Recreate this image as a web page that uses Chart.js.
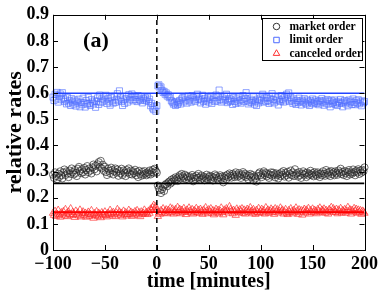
<!DOCTYPE html>
<html><head><meta charset="utf-8">
<script src="https://cdn.jsdelivr.net/npm/chart.js@4/dist/chart.umd.min.js"></script>
<style>html,body{margin:0;padding:0;background:#fff;}canvas{display:block;}</style>
</head><body>
<canvas id="c" width="382" height="293"></canvas>
<script>
const timeMinutes = [
-100,-99,-98,-97,-96,-95,-94,-93,-92,-91,-90,-89,-88,-87,-86,-85,-84,-83,-82,-81,
-80,-79,-78,-77,-76,-75,-74,-73,-72,-71,-70,-69,-68,-67,-66,-65,-64,-63,-62,-61,
-60,-59,-58,-57,-56,-55,-54,-53,-52,-51,-50,-49,-48,-47,-46,-45,-44,-43,-42,-41,
-40,-39,-38,-37,-36,-35,-34,-33,-32,-31,-30,-29,-28,-27,-26,-25,-24,-23,-22,-21,
-20,-19,-18,-17,-16,-15,-14,-13,-12,-11,-10,-9,-8,-7,-6,-5,-4,-3,-2,-1,
0,
1,2,3,4,5,6,7,8,9,10,11,12,13,14,15,16,17,18,19,20,
21,22,23,24,25,26,27,28,29,30,31,32,33,34,35,36,37,38,39,40,
41,42,43,44,45,46,47,48,49,50,51,52,53,54,55,56,57,58,59,60,
61,62,63,64,65,66,67,68,69,70,71,72,73,74,75,76,77,78,79,80,
81,82,83,84,85,86,87,88,89,90,91,92,93,94,95,96,97,98,99,100,
101,102,103,104,105,106,107,108,109,110,111,112,113,114,115,116,117,118,119,120,
121,122,123,124,125,126,127,128,129,130,131,132,133,134,135,136,137,138,139,140,
141,142,143,144,145,146,147,148,149,150,151,152,153,154,155,156,157,158,159,160,
161,162,163,164,165,166,167,168,169,170,171,172,173,174,175,176,177,178,179,180,
181,182,183,184,185,186,187,188,189,190,191,192,193,194,195,196,197,198,199,200];

const limitOrder = [
0.585,0.572,0.596,0.578,0.603,0.566,0.589,0.597,0.575,0.602,
0.581,0.568,0.574,0.559,0.583,0.562,0.571,0.553,0.579,0.566,
0.558,0.574,0.551,0.569,0.562,0.577,0.548,0.565,0.556,0.581,
0.563,0.547,0.572,0.558,0.584,0.561,0.553,0.576,0.566,0.559,
0.571,0.546,0.568,0.582,0.557,0.593,0.564,0.578,0.569,0.586,
0.574,0.592,0.561,0.579,0.567,0.554,0.583,0.571,0.562,0.588,
0.565,0.577,0.598,0.571,0.609,0.582,0.568,0.553,0.574,0.561,
0.579,0.587,0.566,0.594,0.575,0.583,0.597,0.571,0.589,0.576,
0.584,0.568,0.591,0.577,0.572,0.586,0.563,0.579,0.574,0.582,
0.571,0.585,0.568,0.577,0.552,0.561,0.543,0.537,0.548,0.531,
0.552,
0.628,0.632,0.619,0.624,0.611,0.603,0.607,0.596,0.601,0.589,
0.594,0.583,0.587,0.571,0.566,0.558,0.562,0.553,0.568,0.557,
0.564,0.572,0.559,0.578,0.583,0.567,0.586,0.574,0.562,0.589,
0.571,0.578,0.566,0.591,0.583,0.574,0.569,0.587,0.596,0.576,
0.581,0.563,0.574,0.592,0.568,0.579,0.558,0.571,0.583,0.566,
0.577,0.589,0.561,0.574,0.582,0.568,0.593,0.571,0.585,0.612,
0.576,0.566,0.582,0.571,0.588,0.577,0.596,0.564,0.571,0.579,
0.568,0.574,0.557,0.583,0.569,0.561,0.578,0.566,0.585,0.572,
0.562,0.576,0.591,0.568,0.581,0.602,0.573,0.559,0.567,0.577,
0.564,0.572,0.586,0.558,0.569,0.553,0.577,0.563,0.571,0.582,
0.574,0.596,0.566,0.581,0.569,0.584,0.572,0.561,0.579,0.567,
0.598,0.576,0.563,0.587,0.571,0.582,0.555,0.574,0.568,0.591,
0.577,0.566,0.583,0.571,0.596,0.578,0.601,0.568,0.584,0.573,
0.561,0.578,0.566,0.557,0.572,0.564,0.581,0.569,0.555,0.573,
0.566,0.579,0.562,0.558,0.574,0.567,0.553,0.571,0.563,0.578,
0.559,0.566,0.574,0.561,0.568,0.556,0.572,0.563,0.579,0.567,
0.554,0.571,0.562,0.576,0.558,0.569,0.548,0.573,0.561,0.566,
0.574,0.557,0.565,0.553,0.569,0.561,0.576,0.563,0.548,0.566,
0.572,0.559,0.567,0.552,0.574,0.563,0.569,0.557,0.578,0.564,
0.556,0.571,0.562,0.575,0.559,0.566,0.552,0.571,0.563,0.568];

const marketOrder = [
0.288,0.276,0.297,0.283,0.271,0.292,0.279,0.301,0.286,0.274,
0.296,0.308,0.287,0.301,0.293,0.279,0.304,0.291,0.312,0.298,
0.289,0.306,0.295,0.283,0.311,0.318,0.302,0.294,0.309,0.297,
0.314,0.289,0.306,0.321,0.298,0.312,0.304,0.293,0.316,0.327,
0.309,0.322,0.301,0.328,0.336,0.317,0.341,0.312,0.326,0.303,
0.318,0.298,0.287,0.311,0.303,0.294,0.315,0.306,0.289,0.301,
0.312,0.296,0.308,0.284,0.302,0.293,0.311,0.287,0.304,0.296,
0.283,0.306,0.297,0.312,0.291,0.304,0.289,0.301,0.294,0.307,
0.286,0.298,0.279,0.303,0.291,0.284,0.299,0.288,0.302,0.293,
0.286,0.297,0.291,0.304,0.289,0.298,0.307,0.295,0.311,0.302,
0.296,
0.247,0.236,0.229,0.218,0.232,0.241,0.226,0.249,0.253,0.244,
0.258,0.262,0.254,0.269,0.261,0.273,0.266,0.278,0.271,0.264,
0.279,0.286,0.274,0.291,0.282,0.276,0.288,0.271,0.283,0.278,
0.268,0.281,0.274,0.287,0.263,0.279,0.272,0.284,0.276,0.291,
0.278,0.269,0.285,0.274,0.281,0.267,0.276,0.288,0.271,0.279,
0.284,0.272,0.281,0.266,0.277,0.289,0.283,0.274,0.268,0.279,
0.286,0.273,0.281,0.259,0.276,0.284,0.271,0.288,0.279,0.293,
0.284,0.277,0.291,0.286,0.279,0.297,0.288,0.281,0.294,0.285,
0.276,0.289,0.298,0.283,0.292,0.279,0.286,0.271,0.284,0.291,
0.278,0.287,0.266,0.281,0.274,0.262,0.283,0.292,0.297,0.286,
0.279,0.293,0.301,0.287,0.295,0.282,0.291,0.276,0.288,0.297,
0.284,0.296,0.289,0.278,0.293,0.286,0.274,0.291,0.283,0.297,
0.288,0.302,0.281,0.294,0.286,0.299,0.277,0.291,0.304,0.286,
0.297,0.283,0.309,0.289,0.294,0.281,0.298,0.286,0.276,0.292,
0.301,0.288,0.294,0.279,0.296,0.285,0.291,0.303,0.287,0.294,
0.282,0.298,0.289,0.284,0.297,0.291,0.279,0.293,0.286,0.301,
0.292,0.284,0.306,0.295,0.288,0.299,0.283,0.302,0.291,0.297,
0.286,0.301,0.294,0.288,0.304,0.296,0.311,0.291,0.299,0.287,
0.302,0.294,0.283,0.299,0.306,0.289,0.297,0.292,0.308,0.298,
0.286,0.303,0.297,0.309,0.291,0.304,0.296,0.307,0.301,0.316];

const canceledOrder = [
0.141,0.133,0.148,0.129,0.137,0.152,0.134,0.126,0.143,0.138,
0.147,0.131,0.155,0.139,0.128,0.146,0.136,0.158,0.132,0.144,
0.137,0.125,0.149,0.135,0.142,0.131,0.153,0.127,0.139,0.146,
0.133,0.141,0.126,0.138,0.145,0.129,0.136,0.151,0.134,0.122,
0.139,0.132,0.147,0.128,0.141,0.135,0.124,0.143,0.137,0.131,
0.146,0.133,0.127,0.141,0.136,0.152,0.139,0.131,0.144,0.137,
0.128,0.142,0.155,0.138,0.146,0.133,0.141,0.127,0.149,0.136,
0.143,0.131,0.138,0.152,0.136,0.145,0.129,0.141,0.134,0.147,
0.139,0.151,0.134,0.143,0.128,0.146,0.137,0.141,0.153,0.138,
0.144,0.136,0.149,0.141,0.157,0.152,0.163,0.171,0.158,0.166,
0.154,
0.129,0.142,0.137,0.151,0.145,0.158,0.141,0.149,0.154,0.139,
0.152,0.146,0.161,0.143,0.157,0.138,0.149,0.155,0.142,0.163,
0.148,0.156,0.139,0.152,0.144,0.159,0.147,0.136,0.153,0.145,
0.161,0.149,0.142,0.155,0.138,0.151,0.146,0.159,0.143,0.152,
0.141,0.156,0.148,0.137,0.153,0.145,0.162,0.149,0.139,0.154,
0.146,0.158,0.141,0.151,0.135,0.147,0.156,0.143,0.152,0.139,
0.149,0.161,0.144,0.135,0.153,0.147,0.158,0.151,0.142,0.166,
0.155,0.148,0.139,0.152,0.146,0.133,0.157,0.149,0.143,0.154,
0.147,0.158,0.141,0.153,0.138,0.149,0.156,0.144,0.151,0.162,
0.148,0.139,0.155,0.146,0.137,0.152,0.144,0.159,0.141,0.149,
0.156,0.143,0.151,0.138,0.162,0.147,0.153,0.141,0.149,0.157,
0.144,0.152,0.137,0.158,0.146,0.154,0.142,0.149,0.161,0.147,
0.153,0.138,0.146,0.155,0.141,0.136,0.151,0.144,0.158,0.147,
0.139,0.152,0.145,0.161,0.148,0.137,0.154,0.143,0.151,0.134,
0.149,0.156,0.142,0.153,0.146,0.159,0.138,0.151,0.145,0.157,
0.143,0.152,0.147,0.139,0.155,0.148,0.161,0.144,0.153,0.149,
0.157,0.141,0.152,0.146,0.138,0.155,0.149,0.163,0.145,0.158,
0.151,0.144,0.156,0.139,0.153,0.147,0.159,0.142,0.151,0.146,
0.155,0.141,0.149,0.163,0.147,0.154,0.138,0.152,0.145,0.159,
0.148,0.156,0.141,0.153,0.144,0.151,0.137,0.149,0.146,0.141];

const seriesLabels = ['market order','limit order','canceled order'];
const referenceLevels = [0.255, 0.60, 0.145];
const eventTime = [0];
const xRange = [-100, 200];
const yRange = [0, 0.9];
const xTicks = [-100,-50,0,50,100,150,200];
const yTicks = [0,0.1,0.2,0.3,0.4,0.5,0.6,0.7,0.8,0.9];
const xTitle = 'time [minutes]';
const yTitle = 'relative rates';
const panelLabel = '(a)';

const SERIF = '"Liberation Serif","Times New Roman",serif';
const styles = [
  {point:'circle', r:3.6, color:'rgba(40,40,40,0.85)', legend:'#333', line:'#000000'},
  {point:'rect', r:4.3, color:'rgba(80,110,255,0.8)', legend:'#4d6bff', line:'#2244ff'},
  {point:'triangle', r:4.2, color:'rgba(255,40,40,0.85)', legend:'#ff3030', line:'#ff0000'}
];
const seriesValues = [marketOrder, limitOrder, canceledOrder];

const datasets = [];
seriesValues.forEach((vals, i) => {
  datasets.push({
    label: seriesLabels[i],
    data: timeMinutes.map((t, k) => ({x: t, y: vals[k]})),
    pointStyle: styles[i].point,
    pointRadius: styles[i].r,
    pointBorderWidth: 0.8,
    pointBackgroundColor: 'rgba(0,0,0,0)',
    pointBorderColor: styles[i].color,
    showLine: false,
    clip: false,
    order: 2
  });
});
referenceLevels.forEach((lv, i) => {
  datasets.push({
    label: seriesLabels[i] + ' level',
    data: [{x: xRange[0], y: lv}, {x: xRange[1], y: lv}],
    showLine: true, pointRadius: 0, borderColor: styles[i].line, borderWidth: 1.6,
    order: 1
  });
});
datasets.push({
  label: 'event',
  data: [{x: eventTime[0], y: yRange[0]}, {x: eventTime[0], y: yRange[1]}],
  showLine: true, pointRadius: 0, borderColor: '#000', borderWidth: 1.5, borderDash: [5, 4],
  order: 0
});

const extras = {
  id: 'extras',
  beforeDraw(chart) {
    const c = chart.ctx;
    c.save(); c.fillStyle = '#fff'; c.fillRect(0, 0, chart.width, chart.height); c.restore();
  },
  afterDraw(chart) {
    const {ctx, chartArea: a, scales: {x, y}} = chart;
    ctx.save();
    ctx.strokeStyle = '#000';
    ctx.lineWidth = 1;
    ctx.setLineDash([]);
    ctx.strokeRect(Math.round(a.left) + 0.5, Math.round(a.top) + 0.5, Math.round(a.right - a.left), Math.round(a.bottom - a.top));
    ctx.beginPath();
    xTicks.forEach(v => {
      const px = Math.round(x.getPixelForValue(v)) + 0.5;
      ctx.moveTo(px, a.bottom); ctx.lineTo(px, a.bottom - 5);
      ctx.moveTo(px, a.top); ctx.lineTo(px, a.top + 5);
    });
    yTicks.forEach(v => {
      const py = Math.round(y.getPixelForValue(v)) + 0.5;
      ctx.moveTo(a.left, py); ctx.lineTo(a.left + 5, py);
      ctx.moveTo(a.right, py); ctx.lineTo(a.right - 5, py);
    });
    ctx.stroke();

    ctx.fillStyle = '#000';
    ctx.font = 'bold 22px ' + SERIF;
    ctx.textBaseline = 'alphabetic';
    ctx.textAlign = 'left';
    ctx.fillText(panelLabel, x.getPixelForValue(-71), y.getPixelForValue(0.775));

    // legend
    const bw = 100, bh = 42;
    const bx = Math.round(a.right - 3 - bw) + 0.5, by = Math.round(a.top + 3) + 0.5;
    ctx.fillStyle = '#fff';
    ctx.fillRect(bx, by, bw, bh);
    ctx.strokeStyle = '#000';
    ctx.lineWidth = 1;
    ctx.strokeRect(bx, by, bw, bh);
    ctx.font = 'bold 11.5px ' + SERIF;
    ctx.textBaseline = 'middle';
    seriesLabels.forEach((lab, i) => {
      const ry = by + 8 + i * 13.5;
      ctx.strokeStyle = styles[i].legend;
      ctx.fillStyle = 'rgba(0,0,0,0)';
      ctx.lineWidth = 1;
      Chart.helpers.drawPoint(ctx, {pointStyle: styles[i].point, radius: styles[i].r * 0.9, borderWidth: 1, rotation: 0}, bx + 14, ry);
      ctx.fillStyle = '#000';
      ctx.fillText(lab, bx + 27, ry + 0.5);
    });
    ctx.restore();
  }
};

new Chart(document.getElementById('c'), {
  type: 'scatter',
  data: {datasets},
  options: {
    responsive: false,
    animation: false,
    devicePixelRatio: 1,
    layout: {padding: {top: 13, right: 17, left: 0, bottom: 0}},
    plugins: {legend: {display: false}, tooltip: {enabled: false}},
    scales: {
      x: {
        type: 'linear', min: xRange[0], max: xRange[1],
        afterBuildTicks: s => { s.ticks = xTicks.map(v => ({value: v})); },
        afterFit: s => { s.height = 43; },
        grid: {display: false, drawTicks: false},
        border: {display: false},
        ticks: {
          color: '#000', padding: 4, maxRotation: 0,
          font: {family: SERIF, size: 18, weight: 'bold'},
          callback: v => String(v).replace('-', '\u2212')
        },
        title: {display: true, text: xTitle, color: '#000', font: {family: SERIF, size: 20, weight: 'bold', lineHeight: 1}, padding: {top: 0, bottom: 1}}
      },
      y: {
        type: 'linear', min: yRange[0], max: yRange[1],
        afterBuildTicks: s => { s.ticks = yTicks.map(v => ({value: v})); },
        afterFit: s => { s.width = 53; },
        grid: {display: false, drawTicks: false},
        border: {display: false},
        ticks: {
          color: '#000', padding: 4,
          font: {family: SERIF, size: 18, weight: 'bold'},
          callback: v => (v === 0 ? '0' : Number(v).toFixed(1))
        },
        title: {display: true, text: yTitle, color: '#000', font: {family: SERIF, size: 22, weight: 'bold', lineHeight: 1}, padding: {top: 4, bottom: 0}}
      }
    }
  },
  plugins: [extras]
});
</script>
</body></html>
